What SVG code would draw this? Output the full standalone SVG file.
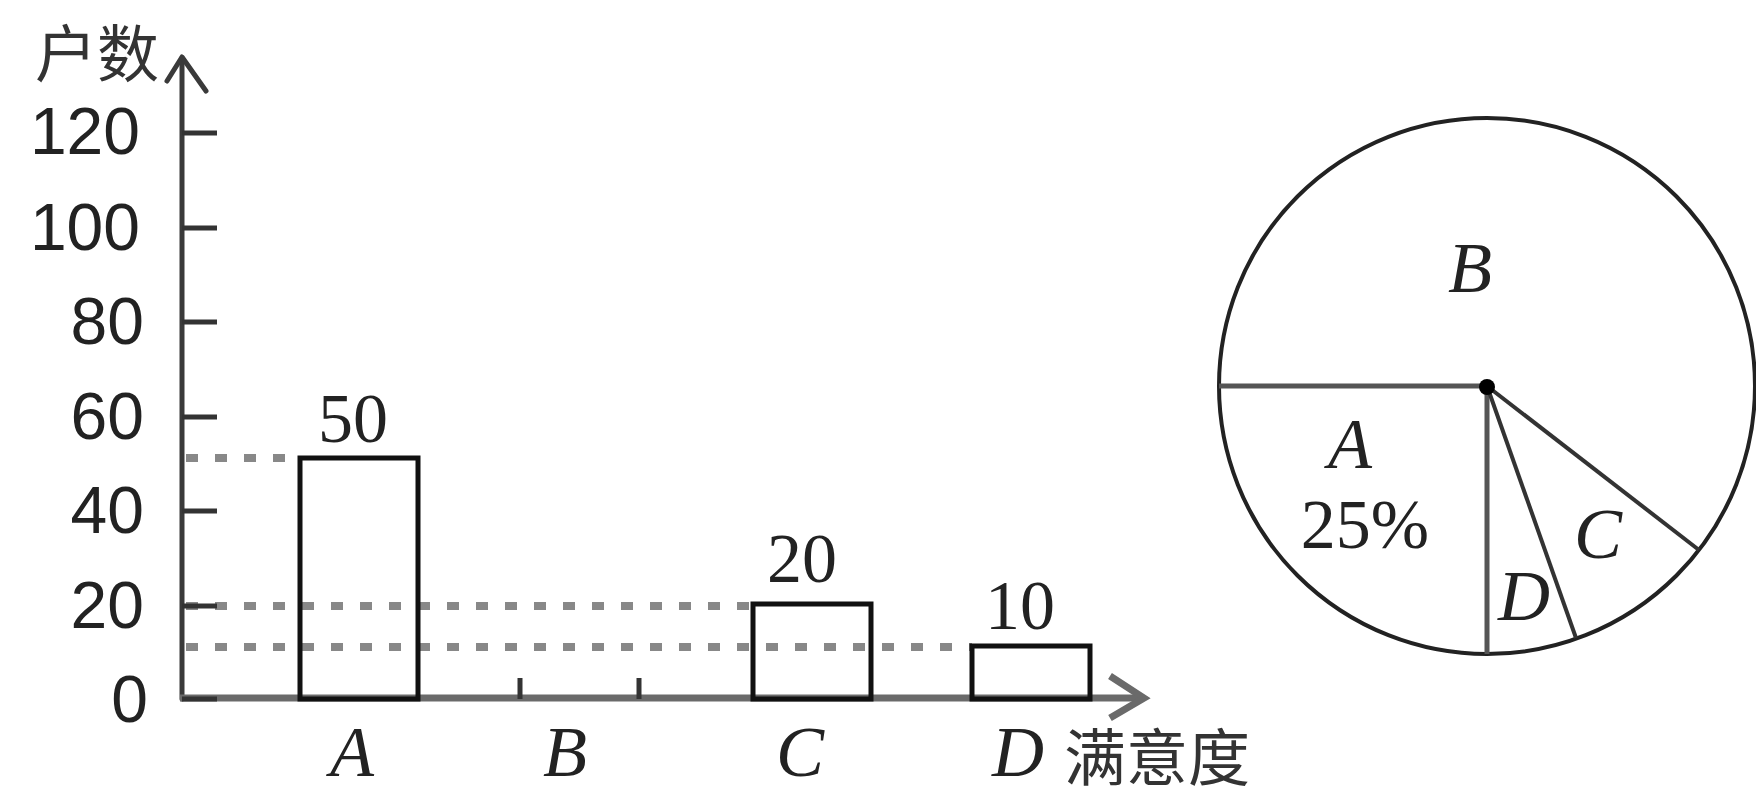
<svg xmlns="http://www.w3.org/2000/svg" width="1756" height="805" viewBox="0 0 1756 805">
<style>
.ax{stroke:#3a3a3a;stroke-width:5;fill:none;stroke-linecap:round;stroke-linejoin:round}
.xax{stroke:#6a6a6a;stroke-width:7;fill:none}
.tick{stroke:#333;stroke-width:5}
.dash{stroke:#888;stroke-width:8;stroke-dasharray:12 17;fill:none}
.bar{fill:none;stroke:#111;stroke-width:5}
.num{font-family:"Liberation Sans",Arial,sans-serif;font-size:66px;fill:#222;text-anchor:end}
.val{font-family:"Liberation Serif","Times New Roman",serif;font-size:70px;fill:#222;text-anchor:middle}
.let{font-family:"Liberation Serif","Times New Roman",serif;font-style:italic;font-size:72px;fill:#222;text-anchor:middle}
.cjk{font-family:"Noto Sans CJK SC",sans-serif;font-size:62px;fill:#333}
.pie{stroke:#222;stroke-width:4;fill:none}
.rad{stroke:#555;stroke-width:5}
.rad2{stroke:#333;stroke-width:4}
</style>
<rect width="1756" height="805" fill="#fff"/>
<g id="connectors">
<line class="dash" x1="186" y1="458" x2="300" y2="458"/>
<line class="dash" x1="186" y1="606" x2="753" y2="606"/>
<line class="dash" x1="186" y1="647" x2="972" y2="647"/>
</g>
<g id="axes">
<line class="ax" x1="182" y1="58" x2="182" y2="699"/>
<polyline class="ax" points="167,81 182,57 206,91"/>
<line class="xax" x1="180" y1="698" x2="1143" y2="698"/>
<polyline class="xax" points="1110,676 1144,698 1110,718" stroke-linejoin="miter"/>
<line class="tick" x1="182" y1="133" x2="217" y2="133"/>
<line class="tick" x1="182" y1="228" x2="217" y2="228"/>
<line class="tick" x1="182" y1="322" x2="217" y2="322"/>
<line class="tick" x1="182" y1="417" x2="217" y2="417"/>
<line class="tick" x1="182" y1="511" x2="217" y2="511"/>
<line class="tick" x1="182" y1="606" x2="217" y2="606"/>
<line class="tick" x1="182" y1="699" x2="217" y2="699"/>
<line class="tick" x1="520" y1="678" x2="520" y2="699"/>
<line class="tick" x1="639" y1="678" x2="639" y2="699"/>
</g>
<g id="ylabels">
<text class="cjk" x="35" y="77">户数</text>
<text class="num" x="140" y="154">120</text>
<text class="num" x="140" y="250">100</text>
<text class="num" x="144" y="344">80</text>
<text class="num" x="144" y="439">60</text>
<text class="num" x="144" y="533">40</text>
<text class="num" x="144" y="628">20</text>
<text class="num" x="148" y="722">0</text>
</g>
<g id="barA">
<rect class="bar" x="300" y="458" width="118" height="241"/>
<text class="val" x="353" y="442">50</text>
<text class="let" x="352" y="776">A</text>
</g>
<g id="barB">
<text class="let" x="565" y="776">B</text>
</g>
<g id="barC">
<rect class="bar" x="753" y="604" width="118" height="95"/>
<text class="val" x="802" y="582">20</text>
<text class="let" x="800" y="776">C</text>
</g>
<g id="barD">
<rect class="bar" x="972" y="646" width="118" height="53"/>
<text class="val" x="1020" y="629">10</text>
<text class="let" x="1018" y="776">D</text>
<text class="cjk" x="1064" y="781">满意度</text>
</g>
<g id="pie">
<circle class="pie" cx="1487" cy="386" r="268"/>
<line class="rad" x1="1219" y1="386" x2="1487" y2="386"/>
<line class="rad" x1="1487" y1="386" x2="1487" y2="654"/>
<line class="rad2" x1="1487" y1="386" x2="1576" y2="638"/>
<line class="rad2" x1="1487" y1="386" x2="1699" y2="550"/>
<circle cx="1487" cy="387" r="8" fill="#000"/>
<text class="let" x="1470" y="292" font-size="76">B</text>
<text class="let" x="1350" y="468" font-size="76">A</text>
<text class="val" x="1365" y="548" font-size="76">25%</text>
<text class="let" x="1598" y="558" font-size="76">C</text>
<text class="let" x="1524" y="620" font-size="76">D</text>
</g>
</svg>
